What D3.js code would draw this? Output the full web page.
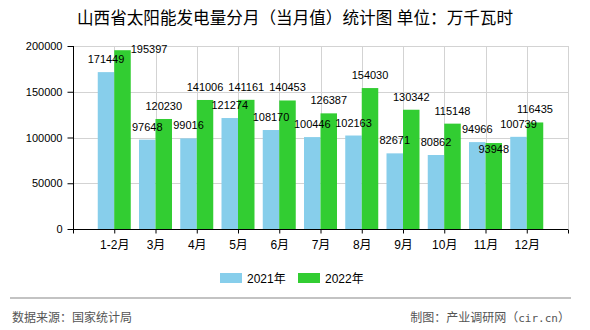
<!DOCTYPE html>
<html>
<head>
<meta charset="utf-8">
<script src="https://cdn.jsdelivr.net/npm/d3@7"></script>
<style>
  body { margin: 0; background: #fff; }
  text { font-family: "Liberation Sans", "Noto Sans CJK SC", sans-serif; }
</style>
</head>
<body>
<svg id="chart"></svg>
<script>
"use strict";

var months = ["1-2月", "3月", "4月", "5月", "6月", "7月", "8月", "9月", "10月", "11月", "12月"];
var values2021 = [171449, 97648, 99016, 121274, 108170, 100446, 102163, 82671, 80862, 94966, 100739];
var values2022 = [195397, 120230, 141006, 141161, 140453, 126387, 154030, 130342, 115148, 93948, 116435];
var seriesNames = ["2021年", "2022年"];
var yTicks = [0, 50000, 100000, 150000, 200000];

var W = 590, H = 330;
var plot = { left: 73, right: 568, top: 46, bottom: 229 };
var colors = ["#87CEEB", "#32CD32"];

var svg = d3.select("#chart")
  .attr("width", W)
  .attr("height", H);

// title
svg.append("text")
  .attr("x", 295)
  .attr("y", 24)
  .attr("text-anchor", "middle")
  .attr("font-size", "16.6px")
  .attr("font-family", "Noto Sans CJK SC")
  .attr("fill", "#000")
  .text("山西省太阳能发电量分月（当月值）统计图 单位：万千瓦时");

// scales: 12 slots, category i sits on slot boundary i+1
var x = d3.scaleLinear().domain([0, months.length + 1]).range([plot.left, plot.right]);
var y = d3.scaleLinear().domain([0, 200000]).range([plot.bottom, plot.top]);
var slot = x(1) - x(0);
var barW = slot * 0.4;

// grid
var grid = svg.append("g").attr("stroke", "#d3d3d3").attr("stroke-width", 1);
yTicks.filter(function (t) { return t > 0; }).forEach(function (t) {
  grid.append("line")
    .attr("x1", plot.left).attr("x2", plot.right)
    .attr("y1", Math.round(y(t)) + 0.5).attr("y2", Math.round(y(t)) + 0.5);
});
d3.range(1, months.length + 2).forEach(function (i) {
  grid.append("line")
    .attr("x1", Math.round(x(i)) + 0.5).attr("x2", Math.round(x(i)) + 0.5)
    .attr("y1", plot.top).attr("y2", plot.bottom);
});

// bars
var data = months.map(function (m, i) {
  return { month: m, i: i, v: [values2021[i], values2022[i]] };
});

[0, 1].forEach(function (s) {
  svg.append("g").selectAll("rect")
    .data(data)
    .enter().append("rect")
    .attr("x", function (d) { return x(d.i + 1) - barW + s * barW; })
    .attr("y", function (d) { return y(d.v[s]); })
    .attr("width", barW)
    .attr("height", function (d) { return plot.bottom - y(d.v[s]); })
    .attr("fill", colors[s]);
});

// value labels
var labels = svg.append("g").attr("font-size", "11px").attr("fill", "#000");
data.forEach(function (d) {
  var c = x(d.i + 1);
  var cx = [c - barW / 2, c + barW / 2];
  var base = [y(d.v[0]) - 9, y(d.v[1]) - 9];
  labels.append("text")
    .attr("x", cx[0]).attr("y", base[0])
    .attr("text-anchor", "middle")
    .text(d.v[0]);

  var t = labels.append("text").text(d.v[1]);
  if (base[1] - 9 < plot.top) {
    // no room above the plot: put it beside the bar
    t.attr("x", c + barW).attr("y", y(d.v[1]) + 3).attr("text-anchor", "start");
  } else if (Math.abs(base[1] - base[0]) < 11) {
    // would collide with the 2021 label: drop it below the bar top
    t.attr("x", cx[1]).attr("y", y(d.v[1]) + 10).attr("text-anchor", "middle");
  } else {
    t.attr("x", cx[1]).attr("y", base[1]).attr("text-anchor", "middle");
  }
});

// y axis
var yAxis = d3.axisLeft(y).tickValues(yTicks).tickSize(6).tickFormat(d3.format("d"));
var yg = svg.append("g")
  .attr("transform", "translate(" + (plot.left + 0.5) + ",0)")
  .call(yAxis);
yg.select(".domain").attr("d", "M0," + plot.top + "V" + plot.bottom);
yg.selectAll("text").attr("font-size", "11px").attr("font-family", "Liberation Sans").attr("fill", "#000").attr("dx", "-2");

// x axis
var xAxis = d3.axisBottom(x)
  .tickValues(d3.range(0, months.length + 2))
  .tickSize(4)
  .tickFormat(function (v) { return (v >= 1 && v <= months.length) ? months[v - 1] : ""; });
var xg = svg.append("g")
  .attr("transform", "translate(0," + (plot.bottom + 0.5) + ")")
  .call(xAxis);
xg.select(".domain").attr("d", "M" + plot.left + ",0H" + plot.right);
xg.selectAll("text").attr("font-size", "12px").attr("fill", "#000").attr("dy", "1.05em");

// legend
var legend = svg.append("g").attr("font-size", "12px");
var legendX = [220, 298];
seriesNames.forEach(function (name, s) {
  legend.append("rect")
    .attr("x", legendX[s]).attr("y", 273)
    .attr("width", 22).attr("height", 10)
    .attr("fill", colors[s]);
  legend.append("text")
    .attr("x", legendX[s] + 27).attr("y", 282.5)
    .attr("fill", "#000")
    .text(name);
});

// footer
svg.append("line")
  .attr("x1", 10).attr("x2", 571)
  .attr("y1", 298).attr("y2", 298)
  .attr("stroke", "#888").attr("stroke-width", 1.2);

svg.append("text")
  .attr("x", 12).attr("y", 322)
  .attr("font-size", "12px")
  .attr("font-family", "Noto Sans CJK SC")
  .attr("fill", "#555")
  .text("数据来源：国家统计局");

var credit = svg.append("text")
  .attr("x", 570).attr("y", 322)
  .attr("text-anchor", "end")
  .attr("font-size", "12px")
  .attr("font-family", "Noto Sans CJK SC")
  .attr("fill", "#555");
credit.append("tspan").text("制图：产业调研网（");
credit.append("tspan").attr("font-family", "DejaVu Sans Mono").attr("font-size", "11px").text("cir.cn");
credit.append("tspan").text("）");
</script>
</body>
</html>
